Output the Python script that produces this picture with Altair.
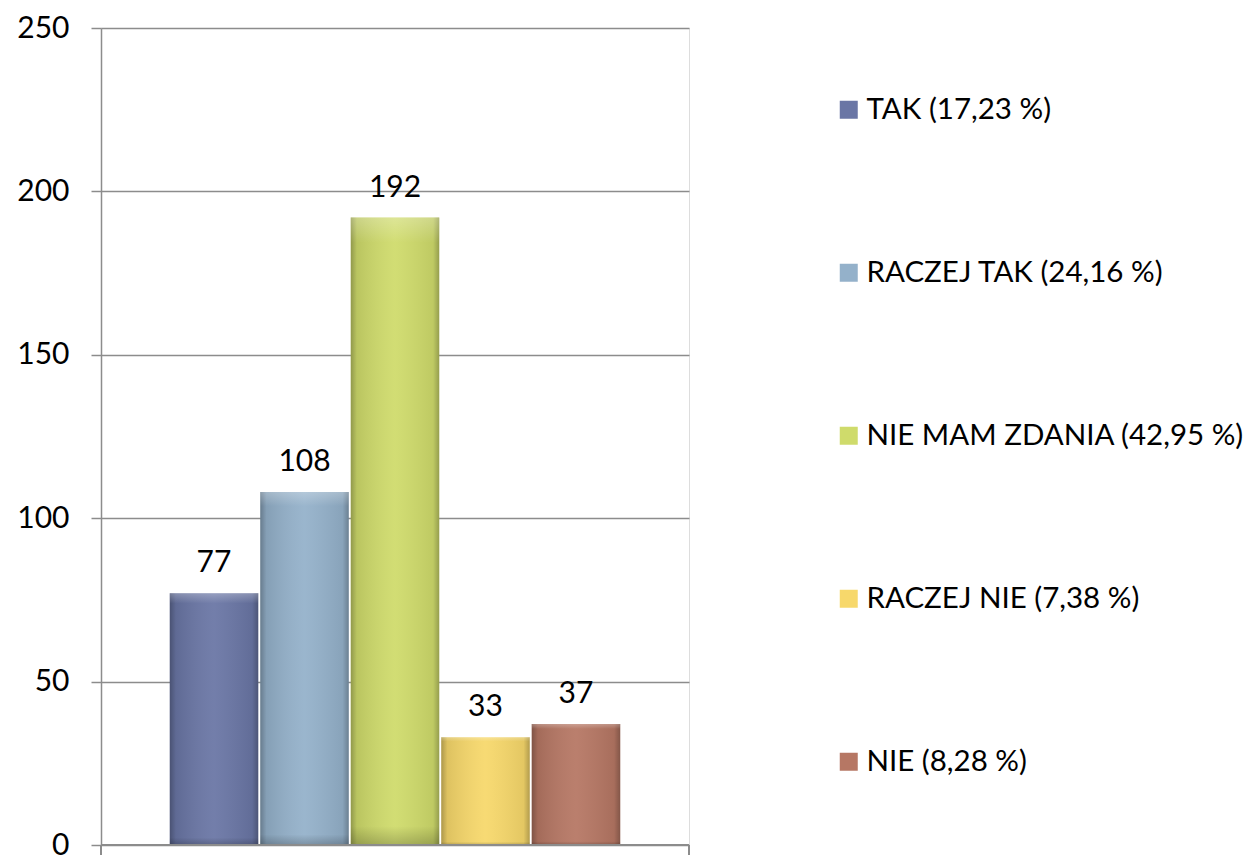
import altair as alt
import pandas as pd

categories = ["TAK", "RACZEJ TAK", "NIE MAM ZDANIA", "RACZEJ NIE", "NIE"]
percents = ["17,23", "24,16", "42,95", "7,38", "8,28"]
counts = [77, 108, 192, 33, 37]
colors = ["#6a76a5", "#94b1ca", "#cfdb6b", "#f7d86b", "#b67764"]
y_ticks = [0, 50, 100, 150, 200, 250]

labels = [f"{c} ({p} %)" for c, p in zip(categories, percents)]
df = pd.DataFrame({"cat": labels, "value": counts})

FONT = "Lato"
W, H = 588, 817

x_enc = alt.X("cat:N", sort=labels, axis=None,
              scale=alt.Scale(paddingInner=0.022, paddingOuter=0.76))
y_enc = alt.Y("value:Q",
              scale=alt.Scale(domain=[0, 250], nice=False),
              axis=alt.Axis(values=y_ticks, title=None, grid=True,
                            gridColor="#8c8c8c", gridWidth=1.5,
                            domainColor="#8c8c8c", domainWidth=1.5,
                            tickColor="#8c8c8c", tickWidth=1.5, tickSize=10,
                            labelFont=FONT, labelFontSize=30, labelColor="#000000",
                            labelPadding=22))

bars = alt.Chart(df).mark_bar().encode(
    x=x_enc,
    y=y_enc,
    color=alt.Color("cat:N", sort=labels,
                    scale=alt.Scale(domain=labels, range=colors),
                    legend=alt.Legend(title=None, orient="none",
                                      legendX=733, legendY=67,
                                      symbolType="square", symbolSize=324,
                                      symbolStrokeWidth=0, symbolOffset=0,
                                      labelFont=FONT, labelFontSize=29.5,
                                      labelColor="#000000", labelOffset=3,
                                      rowPadding=132, padding=0,
                                      labelLimit=600)),
)

grad = alt.LinearGradient(
    gradient="linear", x1=0, x2=1, y1=0, y2=0,
    stops=[
        alt.GradientStop(color="rgba(0,0,0,0.30)", offset=0),
        alt.GradientStop(color="rgba(0,0,0,0.10)", offset=0.07),
        alt.GradientStop(color="rgba(255,255,255,0.06)", offset=0.5),
        alt.GradientStop(color="rgba(0,0,0,0.08)", offset=0.93),
        alt.GradientStop(color="rgba(0,0,0,0.28)", offset=1),
    ],
)
shade = alt.Chart(df).mark_bar(color=grad).encode(x=x_enc, y=y_enc)

topgrad = alt.LinearGradient(
    gradient="linear", x1=0, x2=0, y1=0, y2=1,
    stops=[
        alt.GradientStop(color="rgba(255,255,255,0.25)", offset=0),
        alt.GradientStop(color="rgba(255,255,255,0.0)", offset=0.04),
        alt.GradientStop(color="rgba(0,0,0,0.0)", offset=0.97),
        alt.GradientStop(color="rgba(0,0,0,0.2)", offset=1),
    ],
)
shade2 = alt.Chart(df).mark_bar(color=topgrad).encode(x=x_enc, y=y_enc)

text = alt.Chart(df).mark_text(font=FONT, fontSize=30, color="#000000",
                               baseline="alphabetic", dy=-21).encode(
    x=x_enc, y=y_enc, text="value:Q")

bottom = alt.Chart(df).mark_rule(color="#8c8c8c", strokeWidth=1.5).encode(
    x=alt.value(0), x2=alt.value(W), y=alt.value(H))
tick_l = alt.Chart(df).mark_rule(color="#8c8c8c", strokeWidth=1.5).encode(
    x=alt.value(0), y=alt.value(H), y2=alt.value(H + 10))
tick_r = alt.Chart(df).mark_rule(color="#8c8c8c", strokeWidth=1.5).encode(
    x=alt.value(W), y=alt.value(H), y2=alt.value(H + 10))

chart = alt.layer(bars, shade, shade2, text, bottom, tick_l, tick_r).properties(
    width=W, height=H,
    autosize=alt.AutoSizeParams(type="none"),
    padding={"left": 93, "top": 20, "right": 559, "bottom": 12},
).configure_view(stroke=None).configure(background="white")

chart.save("out.html", embed_options={"renderer": "svg", "actions": False})
